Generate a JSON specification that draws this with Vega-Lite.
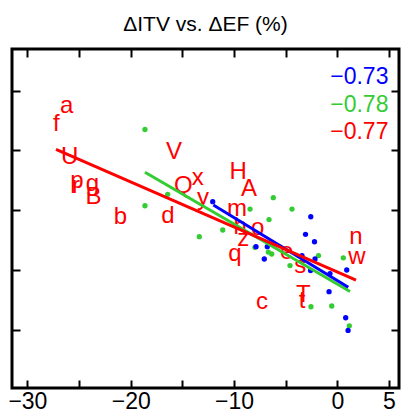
{
  "$schema": "https://vega.github.io/schema/vega-lite/v6.json",
  "width": 387,
  "height": 339,
  "autosize": {"type": "none"},
  "padding": {"left": 12, "top": 49, "right": 2, "bottom": 25},
  "title": {
    "text": "ΔITV vs. ΔEF (%)",
    "font": "Liberation Sans",
    "fontSize": 21,
    "fontWeight": "normal",
    "color": "black",
    "anchor": "middle",
    "baseline": "alphabetic",
    "offset": -4
  },
  "config": {
    "view": {"stroke": "black", "strokeWidth": 3},
    "font": "Liberation Sans",
    "axis": {
      "domain": false,
      "grid": false,
      "tickColor": "black",
      "tickWidth": 2,
      "tickSize": -8,
      "labelFont": "Liberation Sans",
      "labelFontSize": 23,
      "labelColor": "black",
      "title": null
    }
  },
  "datasets": {
    "sites": [
      {"lab": "a", "dEF": -26.2, "dITV": 27.4},
      {"lab": "f", "dEF": -27.2, "dITV": 24.5},
      {"lab": "U", "dEF": -25.9, "dITV": 18.9},
      {"lab": "p", "dEF": -25.2, "dITV": 14.9},
      {"lab": "r", "dEF": -25.3, "dITV": 14.0},
      {"lab": "g", "dEF": -23.7, "dITV": 14.4},
      {"lab": "B", "dEF": -23.6, "dITV": 12.2},
      {"lab": "b", "dEF": -21.0, "dITV": 8.9},
      {"lab": "d", "dEF": -16.4, "dITV": 9.0},
      {"lab": "V", "dEF": -15.8, "dITV": 19.7},
      {"lab": "Q", "dEF": -14.9, "dITV": 14.0},
      {"lab": "x", "dEF": -13.5, "dITV": 15.4},
      {"lab": "y", "dEF": -13.0, "dITV": 12.0},
      {"lab": "H", "dEF": -9.6, "dITV": 16.4},
      {"lab": "A", "dEF": -8.55, "dITV": 13.5},
      {"lab": "m", "dEF": -9.7, "dITV": 10.2},
      {"lab": "h", "dEF": -9.4, "dITV": 7.2},
      {"lab": "z", "dEF": -9.1, "dITV": 5.2},
      {"lab": "o", "dEF": -7.7, "dITV": 7.0},
      {"lab": "q", "dEF": -9.9, "dITV": 2.7},
      {"lab": "e", "dEF": -4.9, "dITV": 3.0},
      {"lab": "s", "dEF": -3.6, "dITV": 0.7},
      {"lab": "n", "dEF": 1.8, "dITV": 5.5},
      {"lab": "w", "dEF": 1.9, "dITV": 2.2},
      {"lab": "c", "dEF": -7.3, "dITV": -5.35},
      {"lab": "T", "dEF": -3.3, "dITV": -4.2},
      {"lab": "t", "dEF": -3.4, "dITV": -5.2}
    ],
    "points": [
      {"group": "green", "dEF": -18.62, "dITV": 23.5},
      {"group": "green", "dEF": -18.62, "dITV": 10.75},
      {"group": "green", "dEF": -16.42, "dITV": 12.66},
      {"group": "green", "dEF": -13.36, "dITV": 5.57},
      {"group": "green", "dEF": -11.09, "dITV": 6.69},
      {"group": "green", "dEF": -8.45, "dITV": 10.2},
      {"group": "green", "dEF": -6.2, "dITV": 12.09},
      {"group": "green", "dEF": -6.61, "dITV": 8.44},
      {"group": "green", "dEF": -4.39, "dITV": 10.2},
      {"group": "green", "dEF": -7.97, "dITV": 3.8},
      {"group": "green", "dEF": -6.68, "dITV": 3.0},
      {"group": "green", "dEF": -6.35, "dITV": 2.68},
      {"group": "green", "dEF": -4.58, "dITV": 0.75},
      {"group": "green", "dEF": -1.82, "dITV": 2.42},
      {"group": "green", "dEF": 0.58, "dITV": 2.04},
      {"group": "green", "dEF": -2.55, "dITV": -6.14},
      {"group": "green", "dEF": -0.54, "dITV": -6.02},
      {"group": "green", "dEF": 1.16, "dITV": -9.33},
      {"group": "blue", "dEF": -12.06, "dITV": 11.42},
      {"group": "blue", "dEF": -2.57, "dITV": 8.91},
      {"group": "blue", "dEF": -3.08, "dITV": 5.97},
      {"group": "blue", "dEF": -2.21, "dITV": 4.73},
      {"group": "blue", "dEF": -7.87, "dITV": 3.9},
      {"group": "blue", "dEF": -6.78, "dITV": 3.9},
      {"group": "blue", "dEF": -7.07, "dITV": 1.84},
      {"group": "blue", "dEF": -3.42, "dITV": 2.42},
      {"group": "blue", "dEF": -2.16, "dITV": 1.84},
      {"group": "blue", "dEF": -2.59, "dITV": -0.08},
      {"group": "blue", "dEF": -0.71, "dITV": -0.59},
      {"group": "blue", "dEF": 0.91, "dITV": 0.0},
      {"group": "blue", "dEF": -0.8, "dITV": -3.63},
      {"group": "blue", "dEF": 0.81, "dITV": -7.98},
      {"group": "blue", "dEF": 1.04, "dITV": -10.1}
    ],
    "fits": [
      {"group": "green", "dEF": -18.62, "dITV": 16.34},
      {"group": "green", "dEF": 1.23, "dITV": -3.6},
      {"group": "blue", "dEF": -12.0, "dITV": 10.87},
      {"group": "blue", "dEF": 1.06, "dITV": -2.89},
      {"group": "red", "dEF": -27.23, "dITV": 20.18},
      {"group": "red", "dEF": 1.81, "dITV": -1.67}
    ],
    "corr": [
      {"group": "blue", "r": -0.73, "dITV": 32.3},
      {"group": "green", "r": -0.78, "dITV": 27.6},
      {"group": "red", "r": -0.77, "dITV": 23.1}
    ]
  },
  "resolve": {"axis": {"x": "independent", "y": "independent"}},
  "layer": [
    {
      "data": {"name": "points"},
      "mark": {"type": "circle", "size": 28, "opacity": 1},
      "encoding": {
        "x": {
          "field": "dEF", "type": "quantitative",
          "scale": {"domain": [-31.49, 5.97], "nice": false, "zero": false},
          "axis": {
            "orient": "bottom",
            "values": [-30, -25, -20, -15, -10, -5, 0, 5],
            "labelExpr": "datum.value % 10 === 0 || datum.value === 5 ? datum.label : ''",
            "labelPadding": 10,
            "labelBaseline": "top",
            "labelFlush": false
          }
        },
        "y": {
          "field": "dITV", "type": "quantitative",
          "scale": {"domain": [-19.73, 36.96], "nice": false, "zero": false},
          "axis": {"orient": "left", "values": [-10, 0, 10, 20, 30], "labels": false}
        },
        "color": {
          "field": "group", "type": "nominal", "legend": null,
          "scale": {"domain": ["blue", "green", "red"], "range": ["#0000FF", "#33CC33", "#FF0000"]}
        }
      }
    },
    {
      "data": {"name": "points"},
      "mark": {"type": "circle", "size": 0, "opacity": 0},
      "encoding": {
        "x": {
          "field": "dEF", "type": "quantitative",
          "scale": {"domain": [-31.49, 5.97], "nice": false, "zero": false},
          "axis": {"orient": "top", "values": [-30, -25, -20, -15, -10, -5, 0, 5], "labels": false}
        },
        "y": {
          "field": "dITV", "type": "quantitative",
          "scale": {"domain": [-19.73, 36.96], "nice": false, "zero": false},
          "axis": {"orient": "right", "values": [-10, 0, 10, 20, 30], "labels": false}
        }
      }
    },
    {
      "mark": {"type": "rule", "color": "black", "strokeWidth": 2, "strokeDash": [2, 5]},
      "encoding": {"y": {"datum": 0, "type": "quantitative", "axis": null}}
    },
    {
      "mark": {"type": "rule", "color": "black", "strokeWidth": 2, "strokeDash": [2, 5]},
      "encoding": {"x": {"datum": 0, "type": "quantitative", "axis": null}}
    },
    {
      "data": {"name": "sites"},
      "mark": {"type": "text", "font": "Liberation Sans", "fontSize": 24, "color": "#FF0000", "align": "center", "baseline": "middle"},
      "encoding": {
        "x": {"field": "dEF", "type": "quantitative", "axis": null, "scale": {"domain": [-31.49, 5.97], "nice": false, "zero": false}},
        "y": {"field": "dITV", "type": "quantitative", "axis": null, "scale": {"domain": [-19.73, 36.96], "nice": false, "zero": false}},
        "text": {"field": "lab"}
      }
    },
    {
      "data": {"name": "fits"},
      "mark": {"type": "line", "strokeWidth": 3},
      "encoding": {
        "x": {"field": "dEF", "type": "quantitative", "axis": null, "scale": {"domain": [-31.49, 5.97], "nice": false, "zero": false}},
        "y": {"field": "dITV", "type": "quantitative", "axis": null, "scale": {"domain": [-19.73, 36.96], "nice": false, "zero": false}},
        "color": {"field": "group", "type": "nominal", "legend": null},
        "order": {"field": "dEF"}
      }
    },
    {
      "data": {"name": "corr"},
      "mark": {"type": "text", "font": "Liberation Sans", "fontSize": 23, "align": "right", "baseline": "middle"},
      "encoding": {
        "x": {"datum": 4.95, "type": "quantitative", "axis": null},
        "y": {"field": "dITV", "type": "quantitative", "axis": null, "scale": {"domain": [-19.73, 36.96], "nice": false, "zero": false}},
        "text": {"field": "r", "type": "quantitative", "format": ".2f"},
        "color": {"field": "group", "type": "nominal", "legend": null}
      }
    }
  ]
}
